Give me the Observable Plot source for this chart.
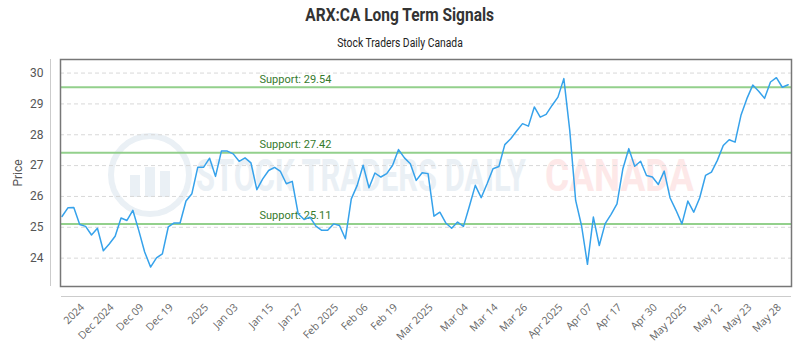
<!DOCTYPE html>
<html><head><meta charset="utf-8">
<script src="https://cdn.jsdelivr.net/npm/d3@7"></script>
<script src="https://cdn.jsdelivr.net/npm/@observablehq/plot@0.6"></script>
<style>
body{margin:0;width:800px;height:350px;overflow:hidden;background:#fff;font-family:Roboto,sans-serif;position:relative}
#head{height:50px;position:relative}
#title{position:absolute;top:4px;left:0;width:800px;text-align:center}
#title span{display:inline-block;font-weight:bold;font-size:18px;color:#333;transform:scaleX(0.86)}
#sub{position:absolute;top:32px;left:0;width:800px;text-align:center}
#sub span{display:inline-block;font-size:12px;color:#222;transform:scaleX(0.86)}
#chart{position:absolute;top:50px;left:0;z-index:2}
.wm{position:absolute;z-index:1;white-space:nowrap;font-weight:bold;transform-origin:left center}
#wm1{left:196px;top:150px;font-size:44px;color:#eaf0f5;transform:scaleX(0.7)}
#wm2{left:545px;top:150px;font-size:44px;color:#fde8e8;transform:scaleX(0.84)}
#logo{position:absolute;z-index:1;left:108px;top:133px;width:72px;height:72px;border:6px solid #eaf0f5;border-radius:50%;overflow:hidden}
.bar{position:absolute;bottom:14px;width:10px;background:#eaf0f5}
</style></head>
<body>
<div id="head"><div id="title"><span>ARX:CA Long Term Signals</span></div><div id="sub"><span>Stock Traders Daily Canada</span></div></div>
<div id="logo"><div class="bar" style="left:16px;height:22px"></div><div class="bar" style="left:31px;height:30px"></div><div class="bar" style="left:46px;height:26px"></div></div>
<div class="wm" id="wm1">STOCK TRADERS DAILY</div>
<div class="wm" id="wm2">CANADA</div>
<div id="chart"></div>
<script>
const values = [25.35,25.63,25.64,25.09,25.03,24.75,24.97,24.24,24.46,24.71,
25.30,25.22,25.55,24.9,24.2,23.71,24.01,24.14,25.01,25.14,
25.14,25.85,26.09,26.95,26.95,27.24,26.65,27.47,27.47,27.38,
27.14,27.25,27.09,26.22,26.57,26.84,26.94,26.81,26.41,26.49,
25.44,25.25,25.33,25.04,24.90,24.90,25.11,25.06,24.63,25.92,
26.36,27.01,26.28,26.76,26.63,26.74,27.01,27.52,27.25,27.06,
26.52,26.77,26.74,25.36,25.49,25.14,24.97,25.17,25.03,25.68,
26.36,25.96,26.41,26.90,26.97,27.68,27.87,28.12,28.36,28.28,
28.90,28.57,28.66,28.95,29.22,29.82,28.14,25.87,25.05,23.8,
25.33,24.41,25.12,25.42,25.76,26.90,27.55,26.98,27.14,26.68,
26.63,26.39,26.82,25.95,25.55,25.11,25.85,25.49,25.95,26.68,
26.79,27.17,27.65,27.84,27.76,28.63,29.17,29.61,29.41,29.18,
29.71,29.85,29.54,29.62];
const supports = [29.54, 27.42, 25.11];
const yTicks = [24, 25, 26, 27, 28, 29, 30];
const tickIdx = [3,8,13,18,24,29,35,40,46,51,56,62,68,73,78,84,89,94,100,105,111,116,121];
const tickLabels = ["2024","Dec 2024","Dec 09","Dec 19","2025","Jan 03","Jan 15","Jan 27","Feb 2025","Feb 06","Feb 19","Mar 2025","Mar 04","Mar 14","Mar 26","Apr 2025","Apr 07","Apr 17","Apr 30","May 2025","May 12","May 23","May 28"];

const data = values.map((v, i) => ({i, v}));
const labelMap = new Map(tickIdx.map((d, k) => [d, tickLabels[k]]));

const chart = Plot.plot({
  width: 800, height: 300,
  marginTop: 9, marginLeft: 60, marginRight: 9, marginBottom: 64,
  x: {domain: [0, values.length - 1], insetLeft: 1.5, insetRight: 3.3},
  y: {domain: [23.08, 30.44]},
  style: {fontFamily: "Roboto, sans-serif", fontSize: "12px", color: "#555", background: "transparent"},
  marks: [
    Plot.gridY(yTicks, {stroke: "#d8d8d8", strokeOpacity: 1, strokeDasharray: "4,3"}),
    Plot.ruleY(supports, {stroke: "#93d08c", strokeWidth: 2}),
    Plot.text(supports, {y: d => d, text: d => `Support: ${d.toFixed(2)}`, frameAnchor: "left", dx: 199, dy: -8, textAnchor: "start", fill: "#357a2c", fontSize: 11}),
    Plot.line(data, {x: "i", y: "v", stroke: "#36a2eb", strokeWidth: 1.5}),
    Plot.frame({stroke: "#777", strokeWidth: 1.5}),
    Plot.axisY(yTicks, {tickSize: 0, tickPadding: 17, label: "Price", labelAnchor: "center", labelArrow: "none", labelOffset: 47, fontSize: 12}),
    Plot.axisX(tickIdx, {tickSize: 0, tickPadding: 19, dx: 3, tickRotate: -45, tickFormat: d => labelMap.get(d), label: null, fontSize: 10.5, fontFamily: "'Open Sans', sans-serif", fill: "#666"})
  ]
});
document.getElementById("chart").appendChild(chart);
const svg = d3.select(chart);
svg.append("line").attr("x1", 50.5).attr("x2", 50.5).attr("y1", 9).attr("y2", 236).attr("stroke", "#ccc");
svg.append("line").attr("x1", 61).attr("x2", 791).attr("y1", 246.5).attr("y2", 246.5).attr("stroke", "#ccc");
</script>
</body></html>
